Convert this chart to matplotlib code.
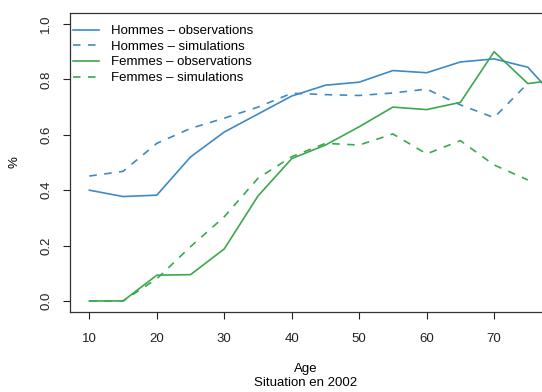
import numpy as np
import matplotlib
matplotlib.use("Agg")
import matplotlib.pyplot as plt

plt.rcParams["font.family"] = ["Liberation Sans", "DejaVu Sans"]

# Taux par âge, hommes et femmes (observé vs simulé)
ages_obs = [10, 15, 20, 25, 30, 35, 40, 45, 50, 55, 60, 65, 70, 75, 80]
ages_sim = [10, 15, 20, 25, 30, 35, 40, 45, 50, 55, 60, 65, 70, 75]
hommes_obs = [0.400, 0.377, 0.382, 0.520, 0.610, 0.675, 0.740, 0.779, 0.790,
              0.832, 0.824, 0.863, 0.874, 0.844, 0.710]
hommes_sim = [0.451, 0.468, 0.569, 0.623, 0.660, 0.700, 0.750, 0.745, 0.742,
              0.751, 0.765, 0.708, 0.662, 0.786]
femmes_obs = [0.0, 0.0, 0.093, 0.095, 0.188, 0.379, 0.514, 0.563, 0.629,
              0.700, 0.691, 0.717, 0.900, 0.785, 0.800]
femmes_sim = [0.0, 0.0, 0.080, 0.196, 0.304, 0.443, 0.521, 0.569, 0.563,
              0.603, 0.531, 0.579, 0.491, 0.437]

bleu = "#3d8ac7"
vert = "#3ba84e"
tirets = (0, (4.5, 4.5))
fs = 9.5

fig = plt.figure(figsize=(5.42, 3.92), dpi=100)
ax = fig.add_axes([0.130, 0.204, 0.870, 0.763])

ax.plot(ages_obs, hommes_obs, color=bleu, lw=1.2, label="Hommes – observations")
ax.plot(ages_sim, hommes_sim, color=bleu, lw=1.2, linestyle=tirets,
        label="Hommes – simulations")
ax.plot(ages_obs, femmes_obs, color=vert, lw=1.2, label="Femmes – observations")
ax.plot(ages_sim, femmes_sim, color=vert, lw=1.2, linestyle=tirets,
        label="Femmes – simulations")

ax.set_xlim(7.2, 77.1)
ax.set_ylim(-0.04, 1.04)
ax.set_xticks([10, 20, 30, 40, 50, 60, 70])
ax.set_yticks([0.0, 0.2, 0.4, 0.6, 0.8, 1.0])
ax.set_yticklabels(["0.0", "0.2", "0.4", "0.6", "0.8", "1.0"], rotation=90,
                   va="center")
ax.tick_params(direction="out", length=5, width=0.8, labelsize=fs,
               colors="#222222")
ax.tick_params(axis="y", pad=8)
ax.tick_params(axis="x", pad=10)

ax.spines["right"].set_visible(False)
for s in ["left", "top", "bottom"]:
    ax.spines[s].set_linewidth(0.9)
    ax.spines[s].set_color("#333333")

ax.set_ylabel("%", fontsize=fs, labelpad=14)
ax.set_xlabel("Age", fontsize=fs, labelpad=13)
fig.text(306 / 542, 1 - 383 / 392, "Situation en 2002", fontsize=fs,
         ha="center", va="center")

ax.legend(loc="upper left", frameon=False, fontsize=fs, handlelength=2.0,
          handletextpad=0.9, labelspacing=0.26, borderaxespad=0.0,
          borderpad=0.0, bbox_to_anchor=(0.005, 0.96))

fig.savefig("out.png", dpi=100)
